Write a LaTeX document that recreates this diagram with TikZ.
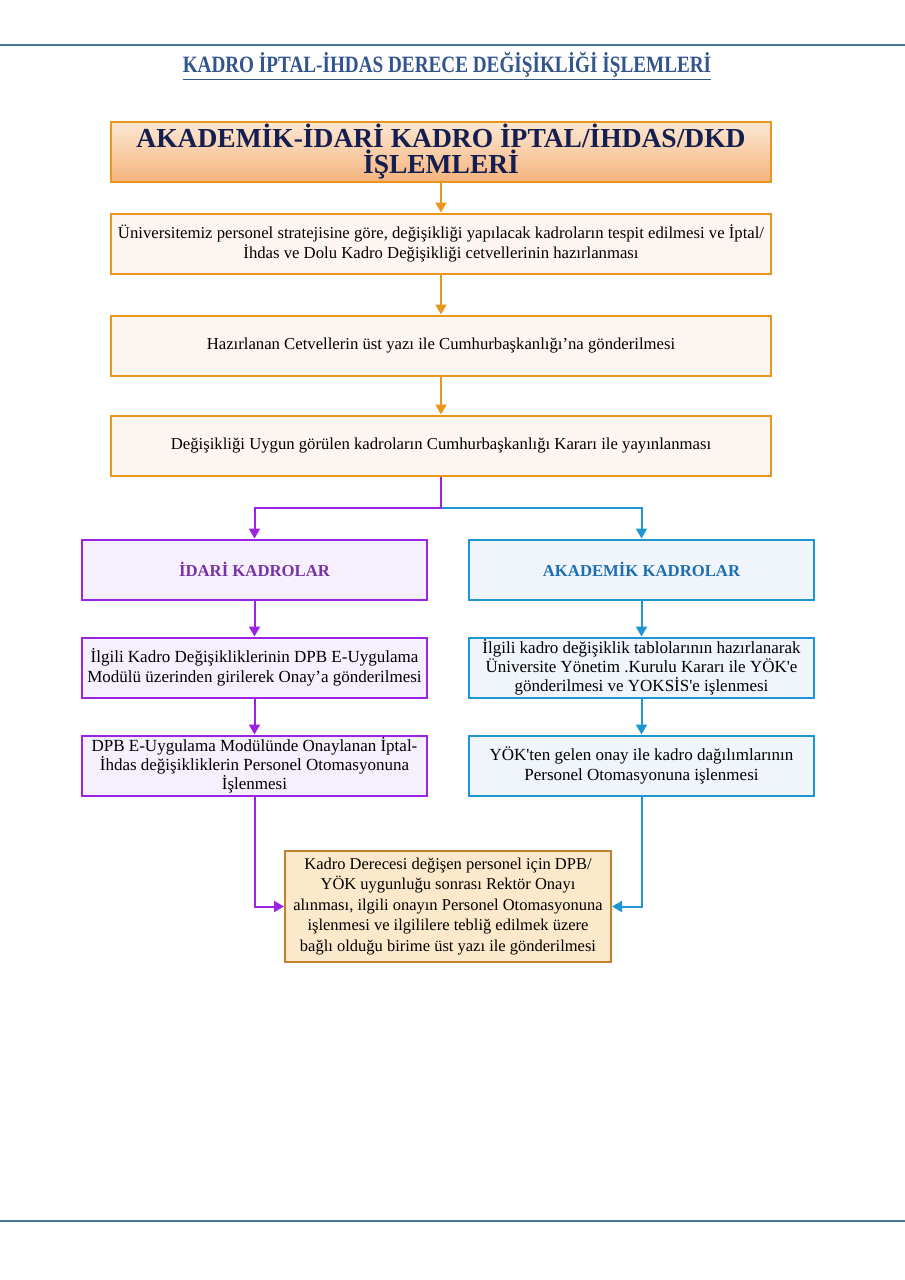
\documentclass[tikz,border=0pt]{standalone}
\usepackage{fontspec}
\setmainfont{Liberation Serif}
\newfontfamily\titlefont[FakeStretch=0.82]{Liberation Serif}
\usetikzlibrary{arrows.meta,positioning}
\definecolor{pageline}{RGB}{70,120,160}
\definecolor{titleblue}{RGB}{50,85,140}
\definecolor{navy}{RGB}{20,30,80}
\definecolor{orangeline}{RGB}{232,150,30}
\definecolor{hdrtop}{RGB}{252,232,212}
\definecolor{hdrbot}{RGB}{245,180,125}
\definecolor{stepfill}{RGB}{253,245,240}
\definecolor{purpleline}{RGB}{155,35,225}
\definecolor{purpletext}{RGB}{120,50,165}
\definecolor{purplefill}{RGB}{246,240,253}
\definecolor{blueline}{RGB}{30,150,210}
\definecolor{bluetext}{RGB}{30,110,175}
\definecolor{bluefill}{RGB}{240,245,251}
\definecolor{finalline}{RGB}{190,130,40}
\definecolor{finalfill}{RGB}{252,232,202}

\begin{document}
\begin{tikzpicture}[x=1pt,y=1pt,node distance=30pt,every node/.append style={align=center,inner sep=2pt},
  font=\fontsize{16.7}{20}\selectfont,
  mainbox/.style={rectangle, draw=orangeline, line width=2pt, fill=stepfill, minimum width=660pt, minimum height=60pt},
  idaribox/.style={rectangle, draw=purpleline, line width=2pt, fill=purplefill, minimum width=345pt, minimum height=60pt},
  akadbox/.style={rectangle, draw=blueline, line width=2pt, fill=bluefill, minimum width=345pt, minimum height=60pt},
  orangearrow/.style={draw=orangeline, line width=2pt, -{Triangle[width=11pt,length=10pt]}},
  purplearrow/.style={draw=purpleline, line width=2pt, -{Triangle[width=11pt,length=10pt]}},
  bluearrow/.style={draw=blueline, line width=2pt, -{Triangle[width=11pt,length=10pt]}}]
    \useasboundingbox[fill=white] (0,0) rectangle (905,-1280);
    % page lines and heading
    \coordinate (topL) at (0,-45);
    \coordinate (topR) at (905,-45);
    \coordinate (botL) at (0,-1221);
    \coordinate (botR) at (905,-1221);
    \draw[pageline, line width=1.6pt] (topL) -- (topR);
    \draw[pageline, line width=1.6pt] (botL) -- (botR);
    \node[text=titleblue, font=\titlefont\bfseries\fontsize{23.4}{26}\selectfont] (title) at (447,-66) {\underline{KADRO İPTAL-İHDAS DERECE DEĞİŞİKLİĞİ İŞLEMLERİ}};
    % main chain
    \node [mainbox, top color=hdrtop, bottom color=hdrbot, text=navy, font=\bfseries\fontsize{27.5}{26.5}\selectfont] (hdr) at (441,-151.5) {AKADEMİK-İDARİ KADRO İPTAL/İHDAS/DKD\\İŞLEMLERİ};
    \node [mainbox, below=of hdr] (tespit) {Üniversitemiz personel stratejisine göre, değişikliği yapılacak kadroların tespit edilmesi ve İptal/\\İhdas ve Dolu Kadro Değişikliği cetvellerinin hazırlanması};
    \node [mainbox, below=40pt of tespit] (gonder) {Hazırlanan Cetvellerin üst yazı ile Cumhurbaşkanlığı’na gönderilmesi};
    \node [mainbox, below=38pt of gonder] (karar) {Değişikliği Uygun görülen kadroların Cumhurbaşkanlığı Kararı ile yayınlanması};
    % two branches
    \node [idaribox, text=purpletext, font=\bfseries\fontsize{16.7}{20}\selectfont] (idari) at (254.5,-569.5) {İDARİ KADROLAR};
    \node [akadbox, text=bluetext, font=\bfseries\fontsize{16.7}{20}\selectfont] (akad) at (641.5,-569.5) {AKADEMİK KADROLAR};
    \node [idaribox, below=36pt of idari, font=\fontsize{17}{20}\selectfont] (idariA) {İlgili Kadro Değişikliklerinin DPB E-Uygulama\\Modülü üzerinden girilerek Onay’a gönderilmesi};
    \node [idaribox, below=36pt of idariA, font=\fontsize{17}{19}\selectfont] (idariB) {DPB E-Uygulama Modülünde Onaylanan İptal-\\İhdas değişikliklerin Personel Otomasyonuna\\İşlenmesi};
    \node [akadbox, below=36pt of akad, font=\fontsize{17}{19}\selectfont] (akadA) {İlgili kadro değişiklik tablolarının hazırlanarak\\Üniversite Yönetim .Kurulu Kararı ile YÖK\textquotesingle e\\gönderilmesi ve YOKSİS\textquotesingle e işlenmesi};
    \node [akadbox, below=36pt of akadA, font=\fontsize{17}{20}\selectfont] (akadB) {YÖK\textquotesingle ten gelen onay ile kadro dağılımlarının\\Personel Otomasyonuna işlenmesi};
    \node [rectangle, draw=finalline, line width=2pt, fill=finalfill, minimum width=326pt, minimum height=111pt, font=\fontsize{16.5}{20.5}\selectfont] (final) at (448,-906.5) {Kadro Derecesi değişen personel için DPB/\\YÖK uygunluğu sonrası Rektör Onayı\\alınması, ilgili onayın Personel Otomasyonuna\\işlenmesi ve ilgililere tebliğ edilmek üzere\\bağlı olduğu birime üst yazı ile gönderilmesi};
    % connectors
    \coordinate[below=31pt of karar.south] (split);
    \path[orangearrow] (hdr) -- (tespit);
    \path[orangearrow] (tespit) -- (gonder);
    \path[orangearrow] (gonder) -- (karar);
    \path[bluearrow] (split) -| (akad);
    \path[purplearrow] (karar) -- (split) -| (idari);
    \path[purplearrow] (idari) -- (idariA);
    \path[purplearrow] (idariA) -- (idariB);
    \path[bluearrow] (akad) -- (akadA);
    \path[bluearrow] (akadA) -- (akadB);
    \path[purplearrow] (idariB.south) |- (final.west);
    \path[bluearrow] (akadB.south) |- (final.east);
\end{tikzpicture}
\end{document}
